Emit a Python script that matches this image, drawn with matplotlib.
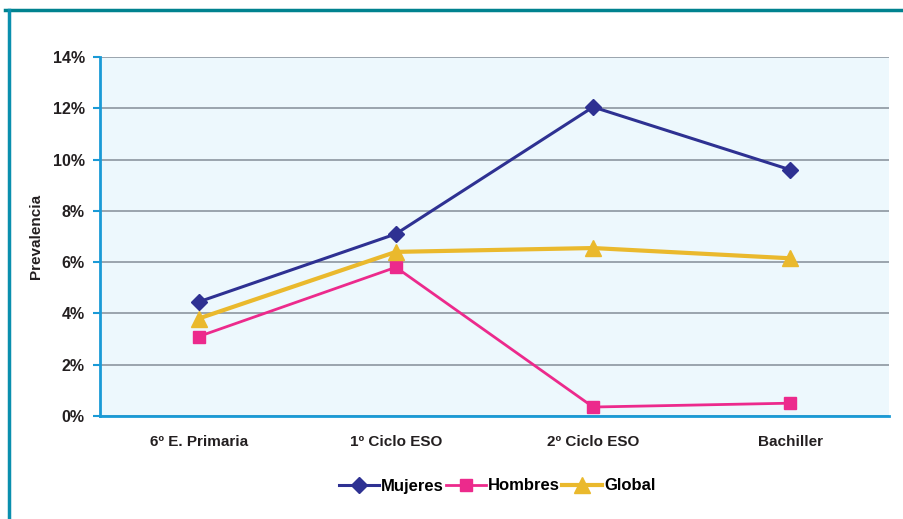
import matplotlib
matplotlib.use('Agg')
import matplotlib.pyplot as plt
from matplotlib.lines import Line2D

# prevalence by school level (%)
categories = ['6º E. Primaria', '1º Ciclo ESO', '2º Ciclo ESO', 'Bachiller']
mujeres = [4.45, 7.1, 12.05, 9.6]
hombres = [3.1, 5.8, 0.35, 0.5]
global_ = [3.8, 6.4, 6.55, 6.15]
yticks = [0, 2, 4, 6, 8, 10, 12, 14]

narrow = ['Liberation Sans Narrow', 'Liberation Sans', 'DejaVu Sans']
plt.rcParams['font.family'] = ['Liberation Sans', 'DejaVu Sans']

fig = plt.figure(figsize=(9.04, 5.19), dpi=100)
ax = fig.add_axes([100/904, 1 - 416/519, 789/904, 359/519])
ax.set_facecolor('#edf8fd')

x = range(len(categories))
ax.plot(x, mujeres, color='#2e3192', lw=2.2, marker='D', ms=8, zorder=4, label='Mujeres')
ax.plot(x, hombres, color='#ec2a8c', lw=2.0, marker='s', ms=9, zorder=3, label='Hombres')
ax.plot(x, global_, color='#eab92d', lw=3.0, marker='^', ms=11, zorder=3, label='Global')

ax.set_xlim(-0.5, 3.5)
ax.set_ylim(0, 14)
ax.set_yticks(yticks)
ax.set_yticklabels([f'{v}%' for v in yticks], fontsize=11.5, fontweight='bold', color='#231f20')
ax.set_xticks(list(x))
ax.set_xticklabels(categories, fontsize=11, fontweight='bold', family=narrow, color='#231f20')
ax.tick_params(axis='x', length=0, pad=14)
ax.tick_params(axis='y', length=5, width=1.5, color='#1a9ad6', pad=6)

ax.grid(axis='y', color='#8c96a0', lw=1.2, zorder=1)
ax.set_axisbelow(True)
for side in ['top', 'right']:
    ax.spines[side].set_visible(False)
for side in ['left', 'bottom']:
    ax.spines[side].set_color('#1a9ad6')
    ax.spines[side].set_linewidth(2)

ax.set_ylabel('Prevalencia', fontsize=11, fontweight='bold', color='#231f20', labelpad=7)

handles, labels = ax.get_legend_handles_labels()
leg = fig.legend(handles, labels, loc='center', bbox_to_anchor=(497/904, 1 - 486/519),
                 ncol=3, frameon=False, handlelength=2.4, handletextpad=0.15,
                 columnspacing=0.1, prop={'family': narrow, 'weight': 'bold', 'size': 12})

# teal frame along the top and left edges
fig.add_artist(Line2D([5/904, 1], [1 - 10/519, 1 - 10/519], color='#00828f', lw=2.5))
fig.add_artist(Line2D([9/904, 9/904], [0, 1 - 10/519], color='#0a8fae', lw=2.5))

fig.savefig('out.png', dpi=100)
